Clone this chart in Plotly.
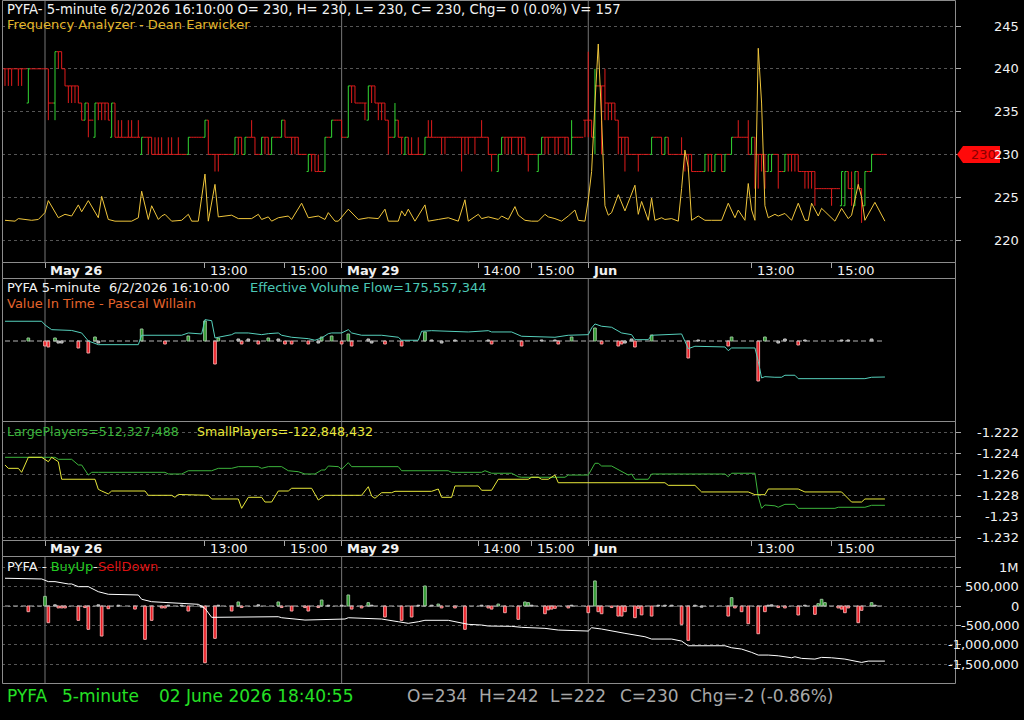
import plotly.graph_objects as go

W, H = 1024, 720
FONT = "DejaVu Sans"
BORDER = "#8c8c8c"
GRID = "#555555"
SEP = "#767676"
TXT = "#f2f2f2"
UP = "#33d633"
DN = "#e01c1c"

# ---------------- data ----------------
bar_open = [
    240,240,240,240,240,240,240,236,240,240, 240,240,240,240,236,236,242,242,240,238,
    238,238,238,236,234,236,234,232,236,236, 236,236,232,236,232,232,232,232,232,232,
    232,230,232,232,232,230,230,230,230,230, 230,230,230,230,230,230,232,232,232,232,
    232,234,230,230,230,230,230,230,230,230, 232,232,230,232,232,232,230,230,232,232,
    230,232,232,232,234,232,232,232,232,230, 230,228,230,230,228,228,228,232,232,234,
    234,234,232,232,238,238,236,236,236,234, 238,238,236,236,236,234,232,232,234,232,
    230,232,230,230,230,230,230,232,232,232, 232,232,232,232,232,232,232,232,232,232,
    232,232,232,232,232,232,230,230,228,230, 232,232,232,232,232,232,232,230,230,230,
    228,230,232,232,232,232,232,232,232,232, 230,232,232,232,234,234,234,232,238,238,
    238,236,236,236,234,232,232,232,230,230, 230,230,230,230,230,232,232,232,230,232,
    230,230,230,230,230,230,230,228,228,228, 228,230,230,228,230,230,228,230,230,232,
    232,232,232,232,230,232,230,230,230,228, 228,230,230,228,228,230,230,230,230,228,
    228,228,228,228,226,226,226,226,226,226, 226,224,224,228,226,224,228,226,224,228,
    228,230,230,230,230]
bar_high = [
    240,240,240,240,240,240,240,240,240,240, 240,240,240,240,236,242,242,242,240,238,
    238,238,238,236,236,236,234,236,236,236, 236,236,236,236,234,234,232,234,234,232,
    234,232,232,232,232,232,232,232,230,232, 232,230,232,230,230,232,232,232,232,232,
    234,234,230,230,230,230,230,230,230,232, 232,232,232,232,234,232,230,232,232,232,
    232,232,232,234,234,232,232,232,232,230, 230,230,230,230,230,228,232,232,234,234,
    234,234,232,238,238,238,236,236,236,238, 238,238,236,236,236,234,232,236,234,232,
    232,232,232,230,232,230,232,234,234,232, 232,232,232,232,232,232,232,232,232,232,
    232,232,232,234,232,232,230,230,230,232, 232,232,232,232,232,232,232,230,230,230,
    230,232,232,232,232,232,232,232,232,232, 234,232,232,232,234,242,234,240,238,238,
    240,236,236,236,234,232,232,232,230,230, 230,230,230,230,232,232,232,232,232,232,
    230,230,230,232,230,230,230,228,228,228, 230,230,230,230,230,230,230,230,232,232,
    234,232,232,234,232,232,230,230,230,230, 230,230,230,228,230,230,230,230,230,228,
    228,228,228,228,226,226,226,226,226,226, 226,228,228,228,228,228,228,226,228,228,
    230,230,230,230,230]
bar_low = [
    238,238,238,240,238,238,240,236,240,240, 240,240,240,234,236,234,240,240,238,236,
    236,236,236,234,234,232,234,232,234,234, 234,234,232,232,232,232,232,232,232,232,
    232,230,232,230,230,230,230,230,230,230, 230,230,230,230,230,230,232,232,232,232,
    232,230,230,228,228,230,230,230,230,230, 230,230,230,232,232,230,230,230,230,230,
    230,232,232,232,232,232,230,230,230,230, 230,228,228,228,228,228,228,232,232,234,
    234,232,232,232,236,236,236,236,234,234, 236,236,234,234,234,230,232,232,232,230,
    230,230,230,230,230,230,230,232,232,232, 232,230,230,232,232,232,232,228,230,230,
    232,230,232,232,232,230,228,230,228,230, 230,230,230,232,230,230,230,228,230,230,
    228,230,230,230,232,230,230,232,230,230, 230,232,232,232,232,232,232,230,238,230,
    234,234,234,234,230,230,228,230,230,230, 228,230,230,230,230,232,232,230,230,230,
    230,230,230,230,228,228,228,228,228,228, 228,228,228,228,230,228,228,230,230,232,
    232,232,232,230,230,226,226,228,226,228, 228,230,226,228,228,228,228,228,228,228,
    226,226,226,224,226,226,226,226,224,226, 226,224,224,226,224,224,226,222,224,228,
    228,230,230,230,230]
bar_close = [
    240,240,240,240,240,240,240,240,240,240, 240,240,240,236,236,242,242,240,238,238,
    238,238,236,234,236,234,234,236,236,236, 236,234,236,232,232,232,232,232,232,232,
    232,232,232,232,230,230,230,230,230,230, 230,230,230,230,230,232,232,232,232,232,
    234,230,230,230,230,230,230,230,230,232, 232,230,232,232,232,230,230,232,232,230,
    232,232,232,234,232,232,232,232,230,230, 230,230,230,228,228,228,232,232,234,234,
    234,232,232,238,238,236,236,236,236,238, 238,236,236,236,234,232,232,234,232,232,
    232,230,230,230,230,230,232,232,232,232, 232,232,232,232,232,232,232,232,232,232,
    232,232,232,232,232,230,230,230,230,232, 232,232,232,232,232,232,230,230,230,230,
    230,232,232,232,232,232,232,232,232,230, 232,232,232,232,234,234,232,238,238,238,
    236,236,236,234,232,232,232,230,230,230, 230,230,230,230,232,232,232,230,232,230,
    230,230,230,230,230,230,228,228,228,228, 230,230,228,230,230,228,230,230,232,232,
    232,232,232,230,232,230,230,230,228,230, 230,230,228,228,230,230,230,230,228,228,
    228,228,228,226,226,226,226,226,226,226, 226,228,228,226,226,228,226,224,228,228,
    230,230,230,230,230]

freq_idx = [0,3,4,8,10,12,13,16,18,20,22,23,25,28,29,31,33,38,40,41,43,44,46,47,48,50,53,55,56,58,
            60,61,63,64,68,70,74,76,77,79,80,82,85,86,89,91,94,96,97,99,100,103,106,109,112,114,115,
            118,119,120,121,123,126,127,130,133,136,138,139,142,143,145,148,149,151,153,154,156,158,
            160,162,163,165,167,169,171,172,174,175,176,177,178,179,180,181,182,184,186,189,190,191,
            193,194,195,197,198,200,202,203,204,205,206,208,210,212,215,217,218,219,220,222,223,224,
            225,226,227,228,229,231,232,234,236,238,240,241,242,244,245,247,249,251,253,254,256,257,
            258,261,264]
freq_val = [222.3,222.2,222.5,222.3,222.4,223.2,224.6,222.6,223.0,222.8,224.1,223.3,224.6,222.6,225.1,
            222.4,222.2,222.2,222.6,225.7,222.4,224.0,222.4,222.8,223.0,222.2,222.3,223.0,222.2,222.2,
            227.7,222.2,226.5,222.7,222.9,222.5,222.5,223.0,222.4,222.7,222.2,222.6,222.8,222.4,224.3,
            222.6,222.8,222.4,223.2,222.2,222.2,223.6,222.4,222.6,222.5,223.6,222.2,222.2,223.4,222.8,
            223.6,222.2,224.1,222.2,222.4,222.6,222.2,224.7,222.2,223.0,222.5,222.7,222.4,222.8,222.4,
            223.9,222.9,222.3,222.2,222.2,223.0,222.7,222.5,222.2,222.8,223.5,222.3,222.2,224.7,228.0,
            236.0,242.9,234.0,224.0,222.9,223.2,225.3,223.4,226.4,223.0,224.5,222.3,224.9,222.3,222.6,
            222.4,222.5,222.2,226.0,230.5,228.5,222.3,222.8,222.3,222.3,222.3,224.3,223.5,222.6,223.5,
            222.3,226.6,223.5,222.3,242.4,236.0,224.0,222.6,223.0,222.8,223.1,222.3,224.3,222.3,222.3,
            224.3,222.8,223.7,222.9,222.2,223.7,222.5,222.9,226.5,225.0,222.3,224.4,222.2]

evf_idx = [0,11,12,14,20,23,25,28,40,41,53,55,59,60,62,63,64,68,69,73,77,79,82,83,86,91,93,95,97,98,
           101,103,104,107,113,118,119,124,125,128,139,145,146,152,155,165,169,175,176,177,179,182,
           185,188,189,193,194,203,204,205,207,216,217,218,225,226,227,228,231,233,234,237,238,249,
           250,252,258,260,264]
evf_val = [231.3,231.3,227.6,222.9,222.1,219.6,211.6,207.9,207.9,217.3,217.3,219.6,218.6,232.9,231.9,
           214.6,215.3,217.9,219.6,219.6,217.9,218.9,219.6,217.3,215.3,213.9,212.3,214.6,218.9,219.6,
           219.6,222.9,219.6,217.3,217.3,215.3,212.3,212.3,221.3,221.9,220.6,221.9,220.6,220.6,216.3,
           215.3,217.3,217.9,224.6,228.6,226.3,225.3,219.6,217.9,212.9,212.9,217.3,218.6,211.3,203.9,
           206.3,205.6,201.9,204.6,204.6,191.3,174.6,175.9,175.3,175.3,177.3,177.3,173.9,173.9,174.6,
           173.9,173.9,175.3,175.56]

vit_idx = [7,12,13,15,16,17,22,25,27,28,41,48,55,60,63,64,70,71,73,76,79,82,84,86,91,94,95,98,101,103,
           104,109,110,114,119,126,128,131,135,145,146,155,161,165,166,170,177,179,184,185,186,188,189,
           194,205,208,217,218,226,228,232,234,238,240,251,253,260]
vit_val = [3,-5,-6,3,-2,-2,-7,-12,4,-2,12,-3,5,20,-23,3,2,-3,2,-3,3,2,-3,-3,-3,-2,4,5,-3,7,
           -5,2,-2,-3,-5,9,1,-2,1,1,-3,-5,1,1,-3,4,13,-3,-5,-3,-2,2,-6,6,-17,1,-5,4,-40,4,
           -2,2,-4,1,1,1,2]

large_idx = [0,15,16,20,22,23,25,26,28,48,49,53,55,62,64,68,70,76,77,79,83,85,88,90,93,95,96,97,100,101,
             103,104,118,119,133,134,143,144,146,152,154,155,168,169,175,177,178,179,182,185,187,188,189,
             193,194,216,217,218,225,226,227,228,231,232,234,237,238,249,250,258,260,264]
large_val = [-1.22441,-1.22441,-1.22460,-1.22460,-1.22514,-1.22514,-1.22610,-1.22584,-1.22584,-1.22584,
             -1.22600,-1.22600,-1.22569,-1.22569,-1.22546,-1.22546,-1.22530,-1.22530,-1.22546,-1.22530,
             -1.22530,-1.22569,-1.22578,-1.22600,-1.22600,-1.22562,-1.22562,-1.22524,-1.22530,-1.22555,
             -1.22492,-1.22530,-1.22530,-1.22569,-1.22569,-1.22584,-1.22584,-1.22569,-1.22593,-1.22593,
             -1.22626,-1.22631,-1.22631,-1.22610,-1.22610,-1.22498,-1.22498,-1.22524,-1.22524,-1.22578,
             -1.22610,-1.22600,-1.22650,-1.22650,-1.22600,-1.22600,-1.22626,-1.22593,-1.22593,-1.22816,
             -1.22927,-1.22895,-1.22903,-1.22917,-1.22889,-1.22889,-1.22927,-1.22927,-1.22917,-1.22917,
             -1.22898,-1.22898]
small_idx = [0,1,4,5,7,11,13,14,16,17,27,28,29,31,32,42,43,50,51,52,61,62,70,71,73,77,78,80,82,85,
             86,92,94,96,107,109,110,111,113,116,117,128,130,131,134,135,142,143,146,148,157,158,160,
             161,163,165,166,198,199,207,209,223,225,228,229,238,240,251,254,257,258,264]
small_val = [-1.22514,-1.22546,-1.22546,-1.22584,-1.22441,-1.22441,-1.22483,-1.22441,-1.22483,-1.22650,
             -1.22650,-1.22746,-1.22762,-1.22790,-1.22762,-1.22762,-1.22803,-1.22803,-1.22822,-1.22795,
             -1.22803,-1.22838,-1.22838,-1.22927,-1.22822,-1.22822,-1.22867,-1.22867,-1.22762,-1.22762,
             -1.22736,-1.22736,-1.22848,-1.22803,-1.22803,-1.22721,-1.22810,-1.22831,-1.22778,-1.22778,
             -1.22765,-1.22765,-1.22743,-1.22822,-1.22822,-1.22714,-1.22714,-1.22755,-1.22755,-1.22650,
             -1.22650,-1.22631,-1.22631,-1.22650,-1.22650,-1.22610,-1.22683,-1.22683,-1.22708,-1.22708,
             -1.22771,-1.22771,-1.22797,-1.22797,-1.22743,-1.22743,-1.22771,-1.22771,-1.22867,-1.22867,
             -1.22838,-1.22838]

bs_idx = [7,12,13,15,16,17,18,22,24,25,28,29,31,34,39,42,44,47,48,49,53,55,59,60,63,64,68,70,71,76,
          82,83,86,90,91,94,95,97,101,103,104,107,109,110,114,119,122,124,126,128,130,131,135,138,143,
          145,146,148,150,154,156,157,158,162,163,164,165,169,170,175,177,178,179,182,184,185,186,189,
          190,191,194,196,198,200,203,205,207,209,217,218,219,221,223,226,228,229,230,232,234,238,240,
          243,244,245,246,250,251,252,253,256,257,260,261]
bs_val = [-0.147,0.25,-0.432,0.03,-0.05,-0.05,-0.05,-0.371,-0.04,-0.604,0.03,-0.777,-0.07,0.02,-0.08,
          -0.863,-0.371,-0.05,-0.05,0.02,0.02,-0.13,-0.03,-1.468,-0.837,0.02,-0.13,0.104,-0.04,0.03,
          0.104,-0.04,-0.13,-0.04,-0.13,-0.04,0.155,0.02,0.02,0.285,-0.08,-0.05,0.086,0.02,-0.285,
          -0.371,-0.285,0.02,0.518,0.02,0.05,-0.05,-0.05,-0.604,0.02,-0.05,-0.08,0.05,-0.173,-0.345,
          0.104,0.086,0.02,-0.2,-0.1,-0.08,-0.06,-0.05,0.02,-0.173,0.648,-0.147,-0.2,-0.04,-0.26,
          -0.26,-0.147,-0.302,-0.06,-0.23,-0.26,0.02,0.02,0.02,-0.475,-0.889,0.02,-0.03,-0.26,0.216,
          -0.05,-0.147,-0.458,-0.717,-0.147,0.02,0.03,-0.04,-0.05,-0.233,0.02,-0.216,0.06,0.173,0.086,
          -0.05,-0.08,-0.173,-0.05,-0.432,-0.112,0.086,0.02]

cum_idx = [0,11,13,15,19,20,22,25,28,31,40,41,44,58,60,61,62,82,83,90,102,103,113,118,121,124,126,133,
           137,139,143,145,152,155,162,166,175,176,179,182,186,192,194,200,203,205,216,218,221,224,226,
           229,232,236,237,239,243,245,248,252,255,257,259,264]
cum_val = [0.718,0.699,0.630,0.630,0.570,0.570,0.500,0.500,0.370,0.303,0.285,0.174,0.111,0.044,-0.060,
           -0.189,-0.293,-0.277,-0.303,-0.363,-0.337,-0.303,-0.337,-0.407,-0.448,-0.407,-0.370,-0.370,
           -0.448,-0.474,-0.492,-0.518,-0.526,-0.552,-0.578,-0.622,-0.648,-0.562,-0.596,-0.648,-0.707,
           -0.795,-0.855,-0.855,-0.907,-1.028,-1.028,-1.080,-1.114,-1.199,-1.269,-1.269,-1.288,-1.339,
           -1.313,-1.355,-1.373,-1.329,-1.339,-1.373,-1.425,-1.459,-1.425,-1.425]

tick_idx = [12, 60, 84, 101, 142, 158, 175, 224, 248]
tick_text = ["May 26", "13:00", "15:00", "May 29", "14:00", "15:00", "Jun", "13:00", "15:00"]
day_idx = [12, 101, 175]

price_ticks = [220, 225, 230, 235, 240, 245]
players_ticks = [-1.232, -1.230, -1.228, -1.226, -1.224, -1.222]
players_labels = ["-1.232", "-1.23", "-1.228", "-1.226", "-1.224", "-1.222"]
bs_ticks = [-1.5, -1.0, -0.5, 0.0, 0.5, 1.0]
bs_labels = ["-1,500,000", "-1,000,000", "-500,000", "0", "500,000", "1M"]

n = len(bar_close)
assert len(bar_open) == n and len(bar_high) == n and len(bar_low) == n
assert len(freq_idx) == len(freq_val) and len(evf_idx) == len(evf_val)
assert len(vit_idx) == len(vit_val) and len(bs_idx) == len(bs_val)
assert len(large_idx) == len(large_val) and len(small_idx) == len(small_val) and len(cum_idx) == len(cum_val)

# ---------------- geometry (pixels) ----------------
PL, PR = 2, 955
P1 = (0, 262); S1 = (262, 278); P2 = (278, 421); P3 = (421, 540); S2 = (540, 556); P4 = (556, 683)
BAR_PX, FIRST_PX = 3.333, 5


def fx(p):
    return p / W


def fy(p):
    return 1 - p / H


def yrange(panel, va, ya, vb, yb):
    s = (va - vb) / (yb - ya)
    return [vb - (panel[1] - yb) * s, va + (ya - panel[0]) * s]


x_range = [(PL - FIRST_PX) / BAR_PX, (PR - FIRST_PX) / BAR_PX]
r_price = yrange(P1, 245, 26, 220, 240)
r_vit = yrange(P2, 10, 331, 0, 341)
r_evf = yrange(P2, 185.557344, 367, 175.557344, 377)
r_pl = yrange(P3, -1.222, 432, -1.232, 537)
r_bs = yrange(P4, 0.0, 606, -1.5, 664)

fig = go.Figure()

# ---- price bars ----
up = [i for i in range(n) if bar_close[i] > bar_open[i]]
dn = [i for i in range(n) if bar_close[i] <= bar_open[i]]
for sel, col in ((dn, DN), (up, UP)):
    fig.add_trace(go.Ohlc(
        x=sel, open=[bar_open[i] for i in sel], high=[bar_high[i] for i in sel],
        low=[bar_low[i] for i in sel], close=[bar_close[i] for i in sel],
        increasing=dict(line=dict(color=col, width=1)),
        decreasing=dict(line=dict(color=col, width=1)),
        tickwidth=0.5, xaxis="x", yaxis="y", hoverinfo="skip", showlegend=False))

fig.add_trace(go.Scatter(x=freq_idx, y=freq_val, mode="lines", line=dict(color="#f0c63c", width=1),
                         xaxis="x", yaxis="y", hoverinfo="skip", showlegend=False))


# ---- panel 2 ----
def bar_colors(vals, small):
    fill, edge = [], []
    for v in vals:
        if abs(v) <= small:
            fill.append("#8a8a8a"); edge.append("#cfcfcf")
        elif v > 0:
            fill.append("#2a9a2a"); edge.append("#98c098")
        else:
            fill.append("#ee1c24"); edge.append("#f0a0a0")
    return fill, edge


fig.add_trace(go.Scatter(x=[0, n - 1], y=[0, 0], mode="lines",
                         line=dict(color="#b4b4b4", width=1, dash="5px,3px"),
                         xaxis="x2", yaxis="y2", hoverinfo="skip", showlegend=False))
vf, ve = bar_colors(vit_val, 2)
fig.add_trace(go.Bar(x=vit_idx, y=vit_val, width=0.8, marker=dict(color=vf, line=dict(color=ve, width=1)),
                     xaxis="x2", yaxis="y2", hoverinfo="skip", showlegend=False))
fig.add_trace(go.Scatter(x=evf_idx, y=evf_val, mode="lines", line=dict(color="#56d0bc", width=1),
                         xaxis="x2", yaxis="y5", hoverinfo="skip", showlegend=False))

# ---- panel 3 ----
fig.add_trace(go.Scatter(x=large_idx, y=large_val, mode="lines", line=dict(color="#3cb43c", width=1),
                         xaxis="x3", yaxis="y3", hoverinfo="skip", showlegend=False))
fig.add_trace(go.Scatter(x=small_idx, y=small_val, mode="lines", line=dict(color="#e8e83a", width=1),
                         xaxis="x3", yaxis="y3", hoverinfo="skip", showlegend=False))

# ---- panel 4 ----
fig.add_trace(go.Scatter(x=[0, n - 1], y=[0, 0], mode="lines",
                         line=dict(color="#b4b4b4", width=1, dash="5px,3px"),
                         xaxis="x4", yaxis="y4", hoverinfo="skip", showlegend=False))
bf, be = bar_colors(bs_val, 0.03)
fig.add_trace(go.Bar(x=bs_idx, y=bs_val, width=0.8, marker=dict(color=bf, line=dict(color=be, width=1)),
                     xaxis="x4", yaxis="y4", hoverinfo="skip", showlegend=False))
fig.add_trace(go.Scatter(x=cum_idx, y=cum_val, mode="lines", line=dict(color="#ffffff", width=1),
                         xaxis="x4", yaxis="y4", hoverinfo="skip", showlegend=False))


# ---------------- axes ----------------
def xa(anchor, ticks):
    d = dict(domain=[fx(PL), fx(PR)], range=x_range, anchor=anchor, showgrid=False, zeroline=False,
             showticklabels=False, showline=False, fixedrange=True)
    if ticks:
        d.update(ticks="outside", ticklen=5, tickcolor="#a8a8a8", tickwidth=1,
                 tickmode="array", tickvals=tick_idx)
    else:
        d.update(ticks="")
    return d


def ya(anchor, panel, rng, tickvals=None):
    d = dict(domain=[fy(panel[1]), fy(panel[0])], range=rng, anchor=anchor, side="right",
             zeroline=False, showticklabels=False, showline=False, fixedrange=True)
    if tickvals:
        d.update(tickmode="array", tickvals=tickvals, ticks="outside", ticklen=5, tickcolor="#a8a8a8",
                 showgrid=True, gridcolor=GRID, griddash="dot", gridwidth=1)
    else:
        d.update(ticks="", showgrid=False)
    return d


x1 = xa("y", True)
x1["rangeslider"] = dict(visible=False)
layout = dict(
    width=W, height=H, margin=dict(l=0, r=0, t=0, b=0),
    paper_bgcolor="#000000", plot_bgcolor="#000000",
    font=dict(family=FONT, color=TXT, size=13),
    showlegend=False, hovermode=False, barmode="overlay",
    xaxis=x1, xaxis2=xa("y2", False), xaxis3=xa("y3", True), xaxis4=xa("y4", False),
    yaxis=ya("x", P1, r_price, price_ticks),
    yaxis2=ya("x2", P2, r_vit),
    yaxis3=ya("x3", P3, r_pl, players_ticks),
    yaxis4=ya("x4", P4, r_bs, bs_ticks),
)
y5 = ya("x2", P2, r_evf)
y5.update(overlaying="y2", visible=False)
layout["yaxis5"] = y5
fig.update_layout(**layout)

# ---------------- shapes ----------------
shapes = []
for top, bot in (P1, S1, P2, P3, S2, P4):
    shapes.append(dict(type="rect", xref="paper", yref="paper", x0=fx(PL + 0.5), x1=fx(PR + 0.5),
                       y0=fy(bot + 0.5), y1=fy(top + 0.5), line=dict(color=BORDER, width=1), layer="above"))
for d in day_idx:
    for top, bot in (P1, P2, P3, P4):
        shapes.append(dict(type="line", xref="x", yref="paper", x0=d, x1=d, y0=fy(bot), y1=fy(top),
                           line=dict(color=SEP, width=1), layer="below"))
# last-price marker (half height 8 px expressed in price units)
last = bar_close[-1]
units_per_px = (r_price[1] - r_price[0]) / (P1[1] - P1[0])
hh = 8.5 * units_per_px
shapes.append(dict(type="path", xref="paper", yref="y",
                   path=f"M {fx(957)},{last} L {fx(963)},{last + hh} L {fx(1000)},{last + hh} "
                        f"L {fx(1000)},{last - hh} L {fx(963)},{last - hh} Z",
                   fillcolor="#ff0a0a", line=dict(width=0), layer="above"))
fig.update_layout(shapes=shapes)

# ---------------- annotations ----------------
ann = []


def text(px, pyy, s, color=TXT, size=13, anchor="left"):
    ann.append(dict(x=fx(px), y=fy(pyy), xref="paper", yref="paper", text=s, showarrow=False,
                    xanchor=anchor, yanchor="middle", font=dict(family=FONT, size=size, color=color)))


# y tick labels
for v in price_ticks:
    ann.append(dict(x=fx(1021), xref="paper", y=v, yref="y", text=str(v), showarrow=False, xanchor="right",
                    yanchor="middle", font=dict(family=FONT, size=13, color=TXT)))
for v, s in zip(players_ticks, players_labels):
    ann.append(dict(x=fx(1021), xref="paper", y=v, yref="y3", text=s, showarrow=False, xanchor="right",
                    yanchor="middle", font=dict(family=FONT, size=13, color=TXT)))
for v, s in zip(bs_ticks, bs_labels):
    ann.append(dict(x=fx(1021), xref="paper", y=v, yref="y4", text=s, showarrow=False, xanchor="right",
                    yanchor="middle", font=dict(family=FONT, size=13, color=TXT)))
ann.append(dict(x=fx(983), xref="paper", y=last, yref="y", text=str(last), showarrow=False, xanchor="center",
                yanchor="middle", font=dict(family=FONT, size=13, color="#8a0000")))

# date strip labels
for strip_y in (270, 548):
    for t, s in zip(tick_idx, tick_text):
        lab = f"<b>{s}</b>" if t in day_idx else s
        ann.append(dict(x=t, xref="x", xshift=3, y=fy(strip_y), yref="paper", text=lab, showarrow=False,
                        xanchor="left", yanchor="middle", font=dict(family=FONT, size=13, color=TXT)))

# titles
text(5, 10, "PYFA- 5-minute 6/2/2026 16:10:00 O= 230, H= 230, L= 230, C= 230, Chg= 0 (0.0%) V= 157", size=13.2)
text(5, 25, "Frequency Analyzer - Dean Earwicker", color="#e2b52a")
text(5, 287, "PYFA 5-minute  6/2/2026 16:10:00")
text(248, 287, "Effective Volume Flow=175,557,344", color="#4cc8b6")
text(5, 303, "Value In Time - Pascal Willain", color="#e4642c")
text(5, 431, "LargePlayers=512,327,488", color="#3cb43c", size=12.6)
text(195, 431, "SmallPlayers=-122,848,432", color="#e8e83a", size=12.6)
text(5, 566, "PYFA - <span style='color:#22cc22'>BuyUp</span>-<span style='color:#dd1111'>SellDown</span>")

# status bar
GREEN_S = "#25e025"
GRAY_S = "#a8a8a8"
text(5, 696, "PYFA", color=GREEN_S, size=17)
text(60, 696, "5-minute", color=GREEN_S, size=17)
text(157, 696, "02 June 2026 18:40:55", color=GREEN_S, size=17)
for s, p in (("O=234", 405), ("H=242", 477), ("L=222", 548), ("C=230", 618), ("Chg=-2 (-0.86%)", 688)):
    text(p, 696, s, color=GRAY_S, size=17)

fig.update_layout(annotations=ann)
fig.write_html("out.html", include_plotlyjs=True, config={"displayModeBar": False})
